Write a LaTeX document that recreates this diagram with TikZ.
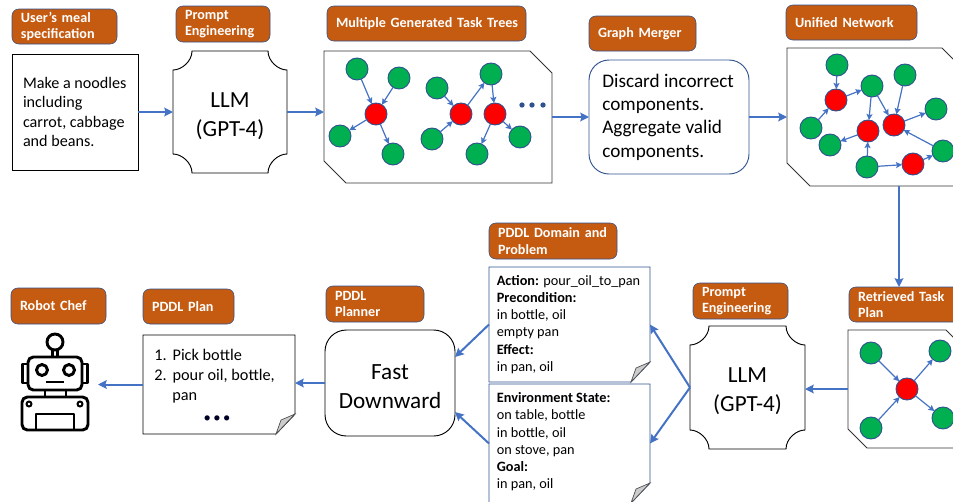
\documentclass[tikz,border=0pt]{standalone}
\usepackage{fontspec}
\setmainfont{Carlito}
\usepackage{tikz}
\usetikzlibrary{calc,arrows.meta}
\definecolor{tagfill}{HTML}{C55A11}
\definecolor{tagline}{HTML}{2F528F}
\definecolor{flowblue}{HTML}{4472C4}
\definecolor{treegreen}{HTML}{00B050}
\definecolor{notefold}{HTML}{CCCCCC}
\tikzset{
  pxsize/.style 2 args={minimum width=#1*0.75pt,minimum height=#2*0.75pt,inner sep=0pt,outer sep=0pt},
  tag/.style 2 args={draw=tagline,fill=tagfill,rounded corners=5pt,text=white,align=left,anchor=north west,
    font=\fontsize{10.6}{12.5}\selectfont\bfseries,text width=#1*0.75pt-13.5pt,inner xsep=6.75pt,inner ysep=0pt,
    minimum height=#2*0.75pt,outer sep=0pt},
  flow/.style={draw=flowblue,line width=1.5pt,-{Stealth[length=6.5pt,width=6.5pt,inset=1pt]}},
  link/.style={draw=flowblue,line width=0.9pt,-{Stealth[length=4.5pt,width=4.5pt,inset=0.8pt]}},
  good/.style={circle,draw=tagline,fill=treegreen,line width=0.7pt,minimum size=16.5pt,inner sep=0pt,outer sep=0pt},
  bad/.style={circle,draw=tagline,fill=red,line width=0.7pt,minimum size=16.5pt,inner sep=0pt,outer sep=0pt},
  bigtext/.style={font=\fontsize{17.3}{22}\selectfont,align=center},
  smalltext/.style={font=\fontsize{10.7}{12.9}\selectfont,align=left},
  pen/.style={draw=black,line width=2.2pt,line join=round}
}
% outline with scooped corners, round a node
\newcommand{\plaque}[2]{
  \draw[black,line width=0.7pt] ($(#1.north west)+(#2,0)$) -- ($(#1.north east)+(-#2,0)$)
    .. controls ($(#1.north east)+(-#2,#2*0.55)$) and ($(#1.north east)+(-#2*0.45,#2)$) .. ($(#1.north east)+(0,#2)$)
    -- ($(#1.south east)+(0,-#2)$)
    .. controls ($(#1.south east)+(-#2*0.45,-#2)$) and ($(#1.south east)+(-#2,-#2*0.55)$) .. ($(#1.south east)+(-#2,0)$)
    -- ($(#1.south west)+(#2,0)$)
    .. controls ($(#1.south west)+(#2,-#2*0.55)$) and ($(#1.south west)+(#2*0.45,-#2)$) .. ($(#1.south west)+(0,-#2)$)
    -- ($(#1.north west)+(0,#2)$)
    .. controls ($(#1.north west)+(#2*0.45,#2)$) and ($(#1.north west)+(#2,#2*0.55)$) .. cycle;
}
% outline with two cut corners, round a node
\newcommand{\snip}[2]{
  \draw[black!80,line width=0.7pt] (#1.north west) -- ($(#1.north east)+(-#2,0)$) -- ($(#1.north east)+(0,#2)$)
    -- (#1.south east) -- ($(#1.south west)+(#2,0)$) -- ($(#1.south west)+(0,-#2)$) -- cycle;
}
% page with a folded corner, round a node
\newcommand{\notepage}[2]{
  \draw[#2,line width=0.7pt] (#1.north west) -- (#1.north east) -- ($(#1.south east)+(0,-20)$)
    -- ($(#1.south east)+(-19,0)$) -- (#1.south west) -- cycle;
  \draw[black!70,fill=notefold,line width=0.5pt] ($(#1.south east)+(0,-20)$) -- ($(#1.south east)+(-19,0)$)
    -- ($(#1.south east)+(-14,-14)$) -- cycle;
}
\begin{document}
\begin{tikzpicture}[x=0.75pt,y=-0.75pt]
\useasboundingbox (0,0) rectangle (953,501);
\clip (0,0) rectangle (953,501);

%tags
\node[tag={105}{35}] (tag user) at (12,9) {User’s meal\\specification};
\node[tag={94}{36}] (tag prompt a) at (176,6) {Prompt\\Engineering};
\node[tag={199}{35}] (tag trees) at (327,6) {\mbox{Multiple Generated Task Trees}};
\node[tag={107}{35}] (tag merger) at (589,16) {Graph Merger};
\node[tag={131}{35}] (tag unified) at (786,5) {Unified Network};
\node[tag={118}{35}] (tag retrieved) at (849,287) {Retrieved Task\\Plan};
\node[tag={95}{36}] (tag prompt b) at (693,283) {Prompt\\Engineering};
\node[tag={128}{36}] (tag domain) at (489,223) {PDDL Domain and\\Problem};
\node[tag={98}{36}] (tag planner) at (326,286) {PDDL\\Planner};
\node[tag={91}{35}] (tag plan) at (143,289) {PDDL Plan};
\node[tag={95}{36}] (tag robot) at (11,288) {Robot Chef};

%boxes
\node[draw=black,line width=0.7pt,pxsize={126}{116},font=\fontsize{12.1}{14.7}\selectfont,align=left] (user) at (75,112)
  {\parbox{78pt}{Make a noodles\\including\\carrot, cabbage\\and beans.}};
\node[pxsize={114}{122},bigtext] (llm a) at (230,112) {\rule{0pt}{17pt}LLM\\(GPT-4)};
\plaque{llm a}{19}
\node[pxsize={228}{132}] (trees) at (438,117) {};
\snip{trees}{22}
\node[draw=tagline,line width=0.7pt,rounded corners=15pt,pxsize={160}{114},font=\fontsize{14.4}{17.5}\selectfont,align=left] (merger) at (669,117)
  {\parbox{100pt}{Discard incorrect\\components.\\Aggregate valid\\components.}};
\node[pxsize={178}{138}] (unified) at (876,117) {};
\snip{unified}{23}
\node[pxsize={117}{118}] (retrieved) at (906.5,389) {};
\snip{retrieved}{19}
\node[pxsize={115}{123},bigtext] (llm b) at (747.5,387.5) {\rule{0pt}{17pt}LLM\\(GPT-4)};
\plaque{llm b}{19}
\node[pxsize={161}{115},smalltext] (domain) at (569.5,324.5)
  {\parbox{109pt}{\textbf{Action:} pour\_oil\_to\_pan\\\textbf{Precondition:}\\in bottle, oil\\empty pan\\\textbf{Effect:}\\in pan, oil}};
\notepage{domain}{tagline}
\node[pxsize={161}{119},smalltext] (problem) at (569.5,443.5)
  {\parbox{109pt}{\textbf{Environment State:}\\on table, bottle\\in bottle, oil\\on stove, pan\\\textbf{Goal:}\\in pan, oil\vspace{2.5pt}}};
\notepage{problem}{tagline}
\node[draw=black,line width=0.7pt,rounded corners=16pt,pxsize={130}{106},font=\fontsize{17.4}{21.8}\selectfont,align=center] (planner) at (390,383)
  {\rule{0pt}{17pt}Fast\\Downward};
\node[pxsize={152}{99}] (plan) at (219,384.5) {};
\notepage{plan}{black}
\node[anchor=north west,inner sep=0pt,font=\fontsize{12.2}{15}\selectfont,align=left] (plan text) at (154,348.5)
  {1.\hspace{4.5pt}Pick bottle\\2.\hspace{4.5pt}pour oil, bottle,\\\hspace*{13.5pt}pan};
\node[inner sep=0pt,font=\fontsize{11}{11}\selectfont,text=black!85!blue] (plan dots) at (217,419) {•\,•\,•};

%first trees
\foreach \i/\x/\y in {a/357/69,b/399/78,c/340/136,d/393/154,e/437/88,f/432/139,g/491/74,h/520/137,i/477/154}{\node[good] (t\i) at (\x,\y) {};}
\foreach \i/\x/\y in {a/376/114,b/461/114,c/495/114}{\node[bad] (u\i) at (\x,\y) {};}
\foreach \p/\q in {ta/ua,tb/ua,ua/tc,ua/td,te/ub,tf/ub,ub/tg,tg/uc,uc/th,uc/ti}{\draw[link] (\p) -- (\q);}
\foreach \i/\x in {a/522,b/532,c/543}{\node[circle,fill=tagline,inner sep=0pt,minimum size=4pt] (more \i) at (\x,105) {};}

%network
\foreach \i/\x/\y in {a/837/65,b/905/75,c/872/86,d/936/109,e/811/128,f/830/145,g/867/167,h/943/151}{\node[good] (n\i) at (\x,\y) {};}
\foreach \i/\x/\y in {a/836/100,b/894/125,c/868/131,d/913/164}{\node[bad] (m\i) at (\x,\y) {};}
\foreach \p/\q in {na/ma,ma/nc,ne/ma,nc/mc,nc/mb,nb/mb,mb/nd,nh/mb,mc/nf,ng/mc,ng/md,md/nh}{\draw[link] (\p) -- (\q);}

%retrieved plan
\foreach \i/\x/\y in {a/871/353,b/940/351,c/871/428,d/943/418}{\node[good] (p\i) at (\x,\y) {};}
\node[bad] (qa) at (907,389) {};
\foreach \p/\q in {pa/qa,pc/qa,qa/pb,qa/pd}{\draw[link] (\p) -- (\q);}

%robot
\draw[pen] (55,342) circle (8);
\draw[pen,line width=1.6pt] (52.5,350) -- (52.5,357) (57.5,350) -- (57.5,357);
\draw[pen,rounded corners=4pt] (28,357) rectangle (82,390);
\draw[pen] (28,364) -- (22.5,364) -- (22.5,383) -- (28,383) (82,364) -- (87.5,364) -- (87.5,383) -- (82,383);
\foreach \x in {42,69}{\draw[pen] (\x,370) circle (5.5);}
\draw[pen] (46,382) -- (64,382);
\draw[pen] (45,390) -- (45,397) (66,390) -- (66,397);
\draw[pen,rounded corners=4pt] (22,397) rectangle (88,430);
\foreach \x in {29,80}{\draw[pen,line width=1.5pt] (\x,404) circle (2.5);}
\draw[pen] (36,430) -- (36,414) -- (74,414) -- (74,430);
\coordinate (robot) at (98,384.5);

%flow
\coordinate (down a) at (899,186);
\coordinate (down b) at (899,287);
\coordinate (fd in a) at (455,357);
\coordinate (fd in b) at (455,412);
\draw[flow] (user) -- (llm a);
\draw[flow] (llm a.east) -- (llm a.east -| trees.west);
\draw[flow] (trees) -- (merger);
\draw[flow] (merger) -- (unified);
\draw[flow] (down a) -- (down b);
\draw[flow] (retrieved.west) -- (llm b.east |- retrieved.west);
\draw[flow] (llm b.west) -- (domain.east);
\draw[flow] (llm b.west) -- (problem.east);
\draw[flow] (domain.west) -- (fd in a);
\draw[flow] (problem.west) -- (fd in b);
\draw[flow] (planner.west) -- (planner.west -| plan.east);
\draw[flow] (plan.west) -- (robot);
\end{tikzpicture}
\end{document}
